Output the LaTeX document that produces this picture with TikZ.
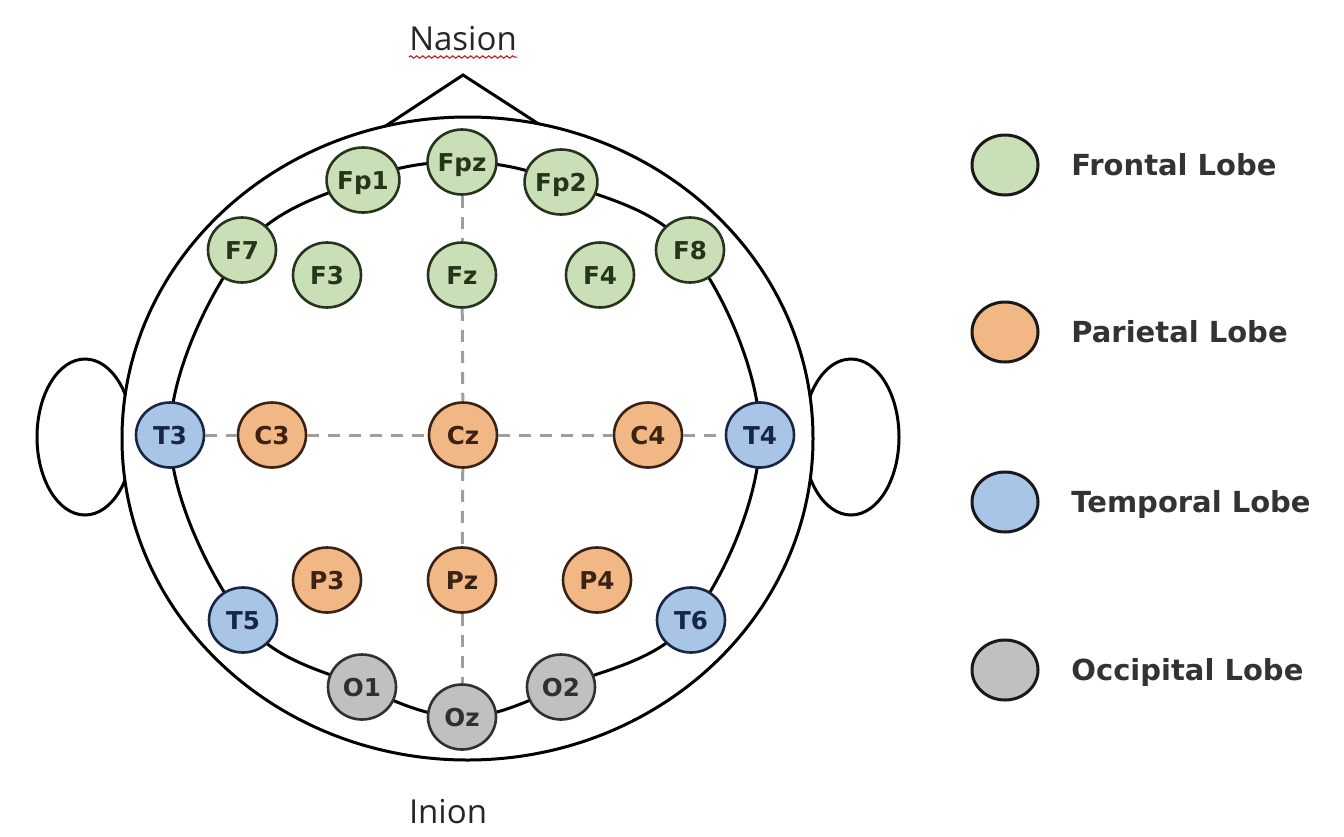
\documentclass[tikz,border=0pt]{standalone}
\usepackage{fontspec}
\usepackage{tikz}
\usetikzlibrary{shapes.geometric, decorations.pathmorphing}
\newfontfamily\elecfont{DejaVu Sans}
\newfontfamily\markfont{Open Sans}

\definecolor{frontfill}{RGB}{201,223,183}
\definecolor{frontline}{RGB}{38,52,28}
\definecolor{parifill}{RGB}{241,183,132}
\definecolor{pariline}{RGB}{58,34,20}
\definecolor{tempfill}{RGB}{168,197,232}
\definecolor{templine}{RGB}{24,38,68}
\definecolor{occfill}{RGB}{192,192,192}
\definecolor{occline}{RGB}{48,48,48}

\pgfdeclarelayer{background}
\pgfsetlayers{background,main}

\tikzset{
  electrode/.style={ellipse, draw, line width=1.3pt, minimum width=34pt, minimum height=32.5pt,
    inner sep=0pt, text height=9pt, text depth=0pt, font=\elecfont\bfseries\fontsize{12.3}{14}\selectfont},
  frontal/.style={electrode, fill=frontfill, draw=frontline, text=frontline},
  parietal/.style={electrode, fill=parifill, draw=pariline, text=pariline},
  temporal/.style={electrode, fill=tempfill, draw=templine, text=templine},
  occipital/.style={electrode, fill=occfill, draw=occline, text=occline},
  legdot/.style={ellipse, draw=black!90, line width=1.5pt, minimum width=33pt, minimum height=30pt, inner sep=0pt},
  legtext/.style={anchor=base west, inner sep=0pt, text=black!80, font=\elecfont\bfseries\fontsize{14.5}{17}\selectfont},
  midline/.style={draw=black!38, line width=1.5pt, dash pattern=on 6pt off 4.5pt},
  headline/.style={line width=1.5pt}
}

\begin{document}
\begin{tikzpicture}[x=0.5pt, y=-0.5pt]
  \useasboundingbox (0,0) rectangle (1344,836);
  \node[frontal] (Fpz) at (462,162) {Fpz};
  \node[frontal] (Fp1) at (363,180) {Fp1};
  \node[frontal] (Fp2) at (561,182) {Fp2};
  \node[frontal] (F7) at (242,250) {F7};
  \node[frontal] (F8) at (690,250) {F8};
  \node[frontal] (F3) at (327,275) {F3};
  \node[frontal] (Fz) at (462,275) {Fz};
  \node[frontal] (F4) at (600,275) {F4};
  \node[temporal] (T3) at (170,435) {T3};
  \node[parietal] (C3) at (272,435) {C3};
  \node[parietal] (Cz) at (463,435) {Cz};
  \node[parietal] (C4) at (648,435) {C4};
  \node[temporal] (T4) at (760,435) {T4};
  \node[parietal] (P3) at (327,580) {P3};
  \node[parietal] (Pz) at (462,580) {Pz};
  \node[parietal] (P4) at (597,580) {P4};
  \node[temporal] (T5) at (243,620) {T5};
  \node[temporal] (T6) at (691,620) {T6};
  \node[occipital] (O1) at (362,687) {O1};
  \node[occipital] (Oz) at (462,717) {Oz};
  \node[occipital] (O2) at (561,687) {O2};
  \begin{pgfonlayer}{background}
    \draw[headline] (85,437) ellipse [x radius=48, y radius=78];
    \draw[headline] (851,437) ellipse [x radius=48, y radius=78];
    \draw[headline] (375,133) -- (463,75) -- (548,130);
    \filldraw[headline, fill=white] (467.5,438.5) ellipse [x radius=345.5, y radius=321.5];
    \draw[headline] plot[smooth cycle, tension=0.6] coordinates {(Fpz.center) (Fp2.center) (F8.center)
      (T4.center) (T6.center) (O2.center) (Oz.center) (O1.center) (T5.center) (T3.center) (F7.center) (Fp1.center)};
  \end{pgfonlayer}
  \draw[midline] (Fpz) -- (Fz);
  \draw[midline] (Fz) -- (Cz);
  \draw[midline] (Cz) -- (Pz);
  \draw[midline] (Pz) -- (Oz);
  \draw[midline] (T3) -- (C3);
  \draw[midline] (C3) -- (Cz);
  \draw[midline] (Cz) -- (C4);
  \draw[midline] (C4) -- (T4);
  \node[anchor=base, inner sep=0pt, font=\markfont\fontsize{16.5}{19}\selectfont, text=black!85] (Nasion) at (463,50) {Nasion};
  \draw[red!85!black, line width=0.5pt, decorate, decoration={snake, amplitude=0.6pt, segment length=3pt}]
    ([yshift=-3.5pt]Nasion.base west) -- ([yshift=-3.5pt]Nasion.base east);
  \node[anchor=base, inner sep=0pt, font=\markfont\fontsize{16.5}{19}\selectfont, text=black!85] (Inion) at (448,823) {Inion};
  \node[legdot, fill=frontfill] (legF) at (1005,165) {};
  \node[legdot, fill=parifill] (legP) at (1005,332) {};
  \node[legdot, fill=tempfill] (legT) at (1005,502) {};
  \node[legdot, fill=occfill] (legO) at (1005,670) {};
  \node[legtext] (legFtext) at (1071,175) {Frontal Lobe};
  \node[legtext] (legPtext) at (1071,342) {Parietal Lobe};
  \node[legtext] (legTtext) at (1071,512) {Temporal Lobe};
  \node[legtext] (legOtext) at (1071,680) {Occipital Lobe};
\end{tikzpicture}
\end{document}
